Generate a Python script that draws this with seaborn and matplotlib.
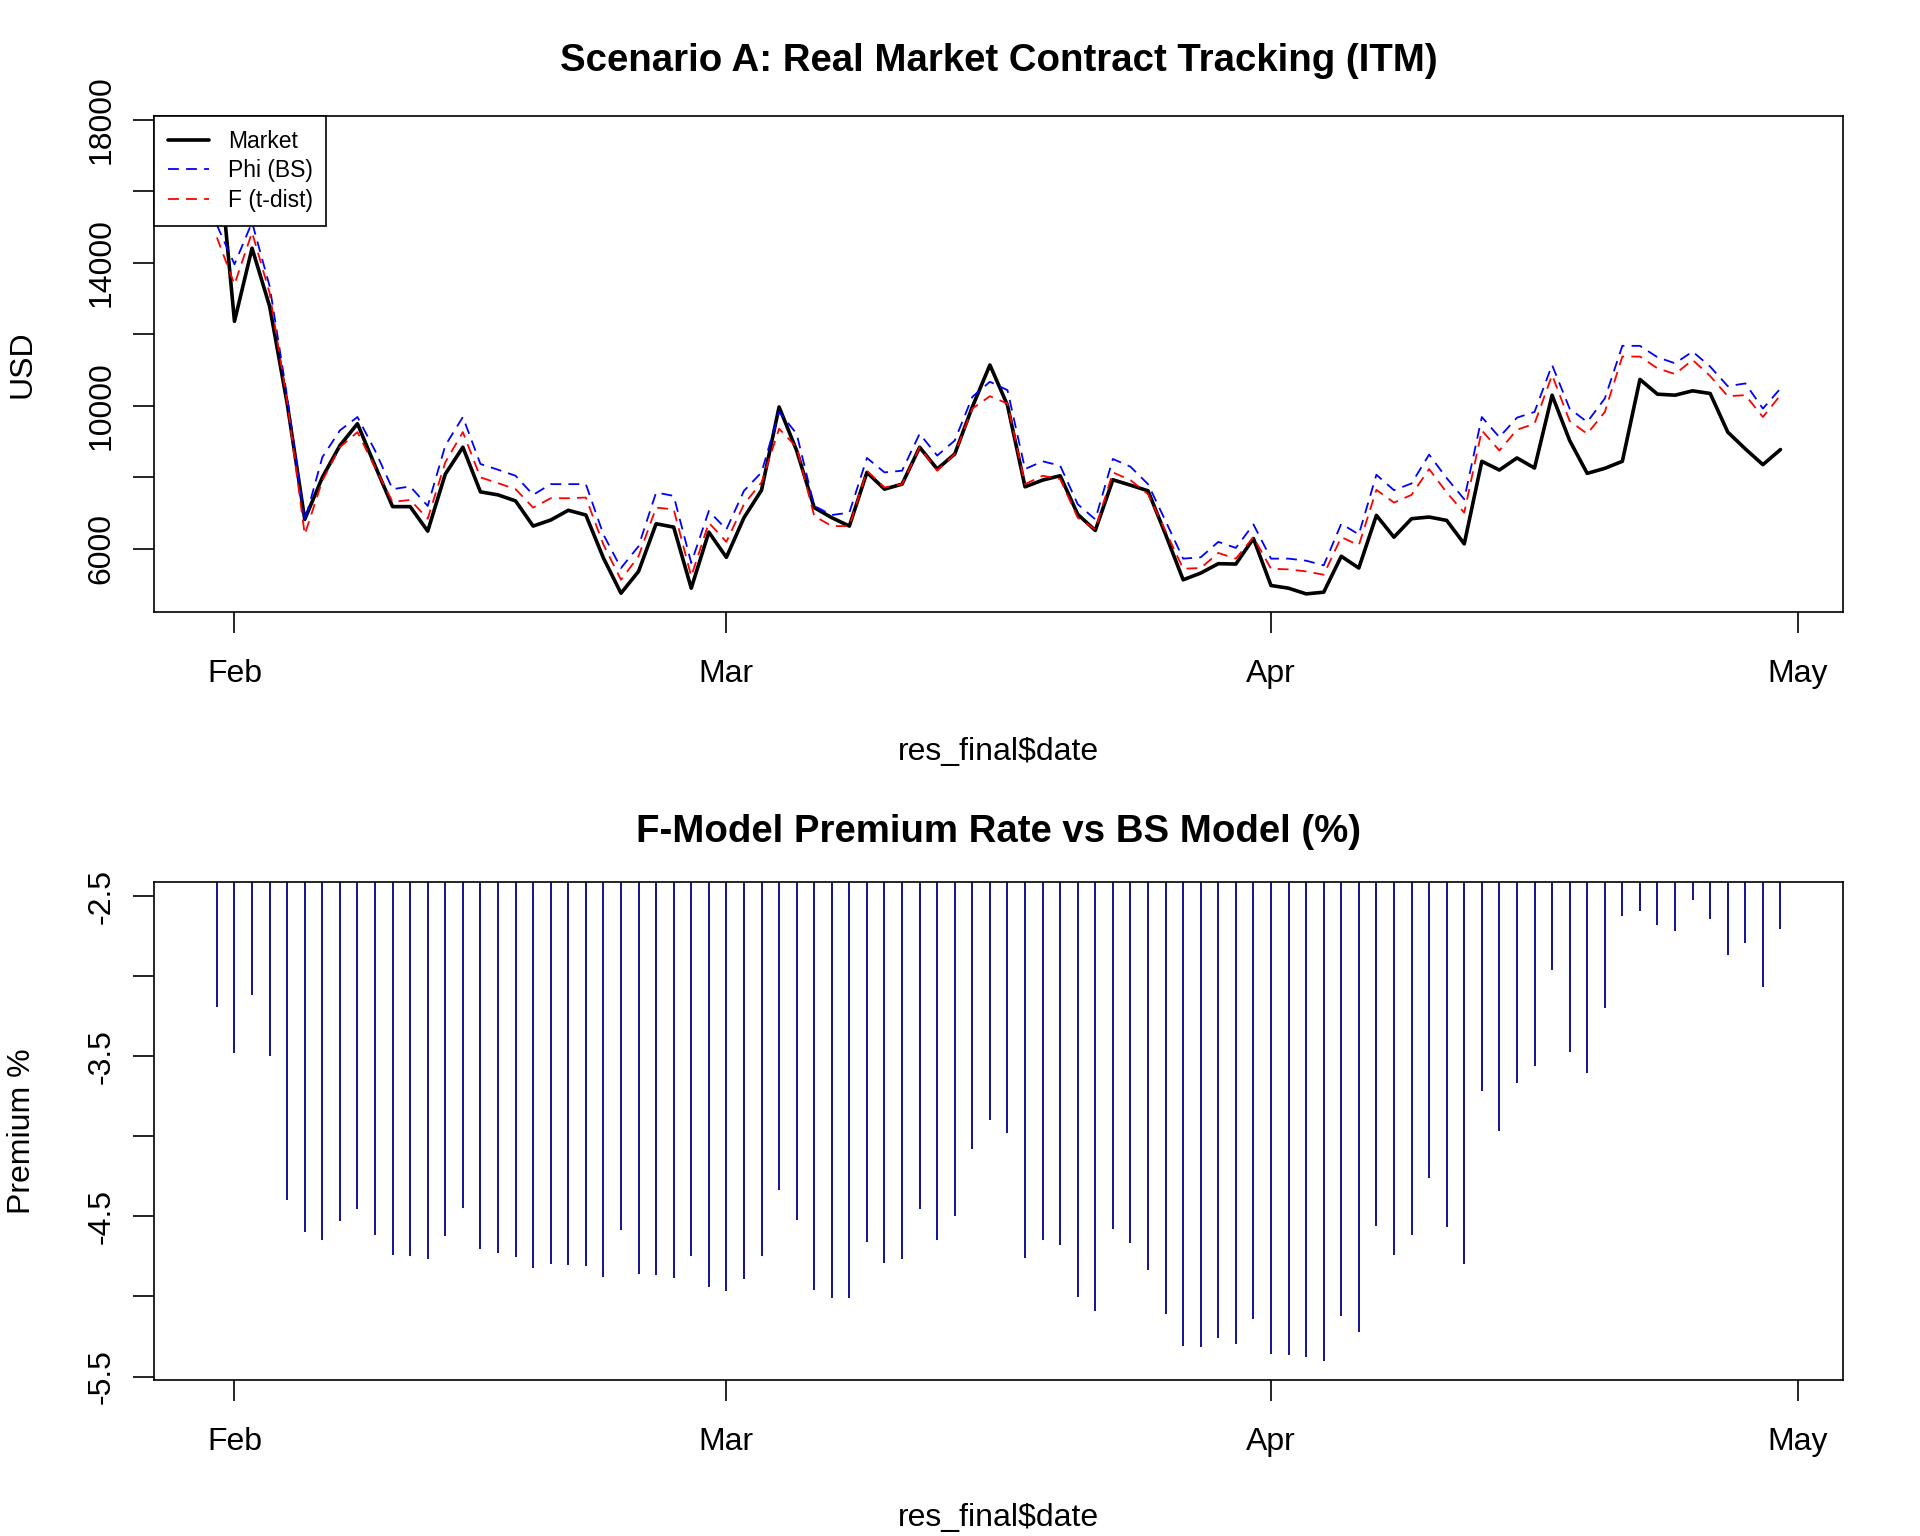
import numpy as np
import pandas as pd
import matplotlib
matplotlib.use("Agg")
import matplotlib.pyplot as plt
import matplotlib.dates as mdates
import seaborn as sns

# daily dates, 31 Jan -> 30 Apr
dates = pd.date_range("2025-01-31", "2025-04-30", freq="D")

# contract prices (USD)
market = [17580, 12357, 14404, 12779, 10056, 6816, 7990, 8882, 9493, 8319,
          7173, 7173, 6488, 8084, 8835, 7586, 7502, 7333, 6629, 6798,
          7070, 6939, 5737, 4751, 5361, 6694, 6600, 4891, 6460, 5755,
          6863, 7633, 9962, 8741, 7145, 6863, 6629, 8131, 7662, 7802,
          8835, 8225, 8647, 9962, 11136, 10009, 7727, 7915, 8037, 6957,
          6507, 7924, 7774, 7615, 6394, 5126, 5314, 5577, 5567, 6281,
          4967, 4891, 4732, 4779, 5784, 5455, 6929, 6319, 6835, 6882,
          6788, 6131, 8441, 8197, 8535, 8253, 10291, 9023, 8103, 8244,
          8441, 10732, 10319, 10291, 10413, 10338, 9258, 8788, 8347, 8770]

phi_bs = [15050, 13953, 15127, 13343, 10244, 6769, 8554, 9305, 9680, 8741,
          7662, 7737, 7192, 8882, 9680, 8366, 8206, 8037, 7502, 7802,
          7802, 7802, 6394, 5455, 6065, 7568, 7474, 5596, 7051, 6535,
          7615, 8131, 9821, 9211, 7192, 6939, 7004, 8535, 8131, 8178,
          9211, 8601, 9023, 10244, 10666, 10432, 8225, 8441, 8319, 7239,
          6816, 8507, 8291, 7802, 6769, 5718, 5755, 6187, 6018, 6676,
          5718, 5718, 5661, 5530, 6694, 6394, 8065, 7633, 7821, 8629,
          7971, 7380, 9680, 9117, 9662, 9821, 11136, 9915, 9540, 10197,
          11671, 11671, 11352, 11183, 11511, 11089, 10544, 10619, 9915, 10479]

f_tdist = [14704, 13389, 14845, 13155, 10103, 6394, 7896, 8835, 9258, 8272,
           7305, 7361, 6835, 8413, 9258, 7990, 7831, 7662, 7145, 7408,
           7408, 7427, 6112, 5126, 5784, 7145, 7098, 5220, 6723, 6187,
           7239, 7849, 9352, 8835, 6910, 6629, 6629, 8178, 7708, 7802,
           8835, 8178, 8647, 9915, 10263, 10056, 7802, 8037, 7943, 6863,
           6535, 8131, 7915, 7521, 6488, 5436, 5455, 5877, 5718, 6319,
           5436, 5417, 5361, 5267, 6319, 6093, 7643, 7286, 7502, 8225,
           7568, 7004, 9305, 8741, 9324, 9493, 10854, 9568, 9211, 9821,
           11371, 11371, 11042, 10882, 11277, 10826, 10263, 10291, 9680, 10291]

# F-model premium vs BS (%)
premium = [-3.194, -3.480, -3.115, -3.501, -4.397, -4.596, -4.646, -4.528, -4.453, -4.618,
           -4.740, -4.745, -4.764, -4.624, -4.446, -4.702, -4.727, -4.755, -4.820, -4.798,
           -4.805, -4.809, -4.878, -4.586, -4.857, -4.863, -4.882, -4.749, -4.940, -4.968,
           -4.889, -4.747, -4.334, -4.523, -4.957, -5.011, -5.007, -4.657, -4.788, -4.768,
           -4.453, -4.648, -4.496, -4.079, -3.898, -3.980, -4.762, -4.646, -4.678, -5.003,
           -5.093, -4.581, -4.663, -4.837, -5.110, -5.307, -5.314, -5.262, -5.299, -5.142,
           -5.357, -5.363, -5.376, -5.406, -5.123, -5.219, -4.558, -4.740, -4.616, -4.259,
           -4.564, -4.796, -3.716, -3.966, -3.667, -3.561, -2.962, -3.473, -3.604, -3.198,
           -2.625, -2.595, -2.681, -2.719, -2.524, -2.644, -2.870, -2.790, -3.067, -2.704]

month_ticks = ["2025-02-01", "2025-03-01", "2025-04-01", "2025-05-01"]
month_labels = ["Feb", "Mar", "Apr", "May"]

sns.set_style("white")
plt.rcParams['font.family'] = ['Liberation Sans', 'DejaVu Sans']
plt.rcParams['text.color'] = 'black'
plt.rcParams['axes.labelcolor'] = 'black'
plt.rcParams['xtick.color'] = 'black'
plt.rcParams['ytick.color'] = 'black'

AXFS = 23


def r_lim(v):
    # R style 4% padding
    lo, hi = min(v), max(v)
    r = hi - lo
    return lo - 0.04 * r, hi + 0.04 * r


def style_axes(ax):
    for s in ax.spines.values():
        s.set_visible(True)
        s.set_color("black")
        s.set_linewidth(1.2)
    xnum = mdates.date2num(dates)
    pad = 0.04 * (xnum[-1] - xnum[0])
    ax.set_xlim(xnum[0] - pad, xnum[-1] + pad)
    ax.set_xticks(mdates.date2num(pd.to_datetime(month_ticks)))
    ax.set_xticklabels(month_labels, fontsize=AXFS)
    ax.tick_params(axis="both", which="both", direction="out", length=15,
                   width=1.2, color="black", labelcolor="black",
                   bottom=True, left=True, top=False, right=False)
    ax.tick_params(axis="x", pad=19)
    ax.tick_params(axis="y", pad=12)
    ax.set_xlabel("")
    ax.set_ylabel("")


fig = plt.figure(figsize=(19.2, 15.36), dpi=100)
ax1 = fig.add_axes([0.0804, 0.6014, 0.8795, 0.3229])
ax2 = fig.add_axes([0.0804, 0.1016, 0.8795, 0.3245])

# top panel: price tracking
sns.lineplot(x=dates, y=market, ax=ax1, color="black", linewidth=2.6, label="Market")
sns.lineplot(x=dates, y=phi_bs, ax=ax1, color="blue", linewidth=1.3,
             linestyle=(0, (6, 4)), label="Phi (BS)")
sns.lineplot(x=dates, y=f_tdist, ax=ax1, color="red", linewidth=1.3,
             linestyle=(0, (6, 4)), label="F (t-dist)")
style_axes(ax1)
ax1.set_ylim(*r_lim(market))
yt = [6000, 8000, 10000, 12000, 14000, 16000, 18000]
ax1.set_yticks(yt)
ax1.set_yticklabels(["6000", "", "10000", "", "14000", "", "18000"],
                    rotation=90, va="center", fontsize=AXFS)

leg = ax1.legend(loc="upper left", bbox_to_anchor=(0, 1), borderaxespad=0,
                 frameon=True, fancybox=False, edgecolor="black", framealpha=1,
                 fontsize=16.5, handlelength=1.8, handletextpad=0.8,
                 labelspacing=0.28, borderpad=0.6)
leg.get_frame().set_linewidth(1.2)

# bottom panel: premium rate, R type="h" style
ax2.vlines(mdates.date2num(dates), 0, premium, colors="#00008B", linewidth=1.3)
style_axes(ax2)
ax2.set_ylim(*r_lim(premium))
pt = [-5.5, -5.0, -4.5, -4.0, -3.5, -3.0, -2.5]
ax2.set_yticks(pt)
ax2.set_yticklabels(["-5.5", "", "-4.5", "", "-3.5", "", "-2.5"],
                    rotation=90, va="center", fontsize=AXFS)

cx = 0.0804 + 0.8795 / 2
fig.text(cx, 0.9600, "Scenario A: Real Market Contract Tracking (ITM)",
         ha="center", va="center", fontsize=27.6, fontweight="bold")
fig.text(cx, 0.4585, "F-Model Premium Rate vs BS Model (%)",
         ha="center", va="center", fontsize=27.6, fontweight="bold")
fig.text(cx, 0.5105, "res_final$date", ha="center", va="center", fontsize=AXFS)
fig.text(cx, 0.0115, "res_final$date", ha="center", va="center", fontsize=AXFS)
fig.text(0.0115, 0.763, "USD", ha="center", va="center", rotation=90, fontsize=AXFS)
fig.text(0.0115, 0.2637, "Premium %", ha="center", va="center", rotation=90, fontsize=AXFS)

fig.savefig("out.png", dpi=100, facecolor="white")
